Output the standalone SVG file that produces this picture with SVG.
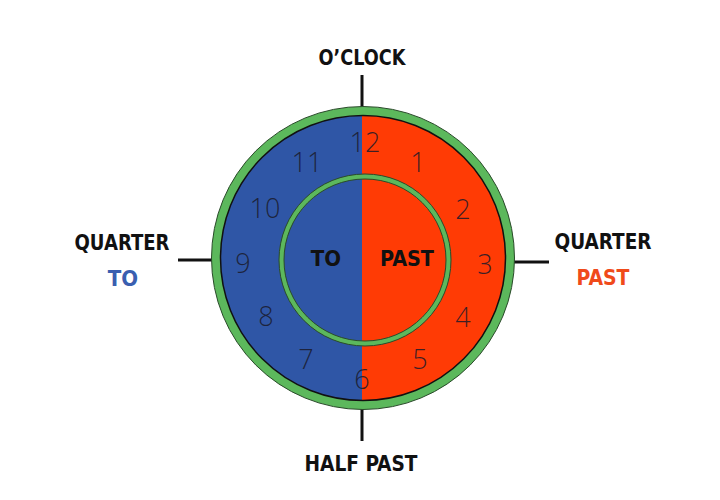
<svg xmlns="http://www.w3.org/2000/svg" width="720" height="500" viewBox="0 0 720 500">
<style>
.lbl{font-family:"DejaVu Sans Condensed","Open Sans","Liberation Sans",sans-serif;font-weight:bold;font-size:22px;text-anchor:middle;fill:#111}
.num{font-family:"Open Sans","Lato","Liberation Sans",sans-serif;font-weight:300;font-size:27px;text-anchor:middle;dominant-baseline:central;fill:#1a1a2a;fill-opacity:0.85}
.tick{stroke:#111;stroke-width:3;fill:none}
</style>
<rect width="720" height="500" fill="#fff"/>
<g id="connectors">
<line class="tick" x1="362" y1="75" x2="362" y2="108"/>
<line class="tick" x1="362" y1="408" x2="362" y2="441"/>
<line class="tick" x1="178" y1="260" x2="214" y2="260"/>
<line class="tick" x1="513" y1="262" x2="549" y2="262"/>
</g>
<g id="clock">
<path d="M362,111 A147,147 0 0 0 362,405 Z" fill="#2f56a6"/>
<path d="M362,111 A147,147 0 0 1 362,405 Z" fill="#ff3b05"/>
<circle cx="363" cy="258" r="147" fill="none" stroke="#5cb85c" stroke-width="9"/>
<circle cx="363" cy="258" r="151.5" fill="none" stroke="#2a4a2a" stroke-width="1"/>
<circle cx="363" cy="258" r="142.5" fill="none" stroke="#111" stroke-width="1.5"/>
<circle cx="365" cy="260" r="83.5" fill="none" stroke="#5cb85c" stroke-width="5"/>
<circle cx="365" cy="260" r="86" fill="none" stroke="#2a4a2a" stroke-width="1"/>
<circle cx="365" cy="260" r="81" fill="none" stroke="#2a4a2a" stroke-width="1"/>
</g>
<g id="numbers">
<text class="num" x="365" y="141">12</text>
<text class="num" x="418" y="161">1</text>
<text class="num" x="463" y="208">2</text>
<text class="num" x="485" y="263">3</text>
<text class="num" x="463" y="316">4</text>
<text class="num" x="420" y="358">5</text>
<text class="num" x="362" y="378">6</text>
<text class="num" x="306" y="358">7</text>
<text class="num" x="266" y="315">8</text>
<text class="num" x="243" y="262">9</text>
<text class="num" x="265" y="207">10</text>
<text class="num" x="307" y="161">11</text>
</g>
<g id="inner-to"><text class="lbl" x="326" y="266">TO</text></g>
<g id="inner-past"><text class="lbl" x="407" y="266" textLength="54" lengthAdjust="spacingAndGlyphs">PAST</text></g>
<g id="oclock"><text class="lbl" x="362" y="65" textLength="87" lengthAdjust="spacingAndGlyphs">O’CLOCK</text></g>
<g id="quarter-to">
<text class="lbl" x="122" y="250" textLength="95" lengthAdjust="spacingAndGlyphs">QUARTER</text>
<text class="lbl" x="123" y="286" fill="#3a5fb0" style="fill:#3a5fb0">TO</text>
</g>
<g id="quarter-past">
<text class="lbl" x="603" y="249" textLength="97" lengthAdjust="spacingAndGlyphs">QUARTER</text>
<text class="lbl" x="603" y="285" style="fill:#f04a1a" textLength="53" lengthAdjust="spacingAndGlyphs">PAST</text>
</g>
<g id="half-past"><text class="lbl" x="361" y="471" textLength="113" lengthAdjust="spacingAndGlyphs">HALF PAST</text></g>
</svg>
